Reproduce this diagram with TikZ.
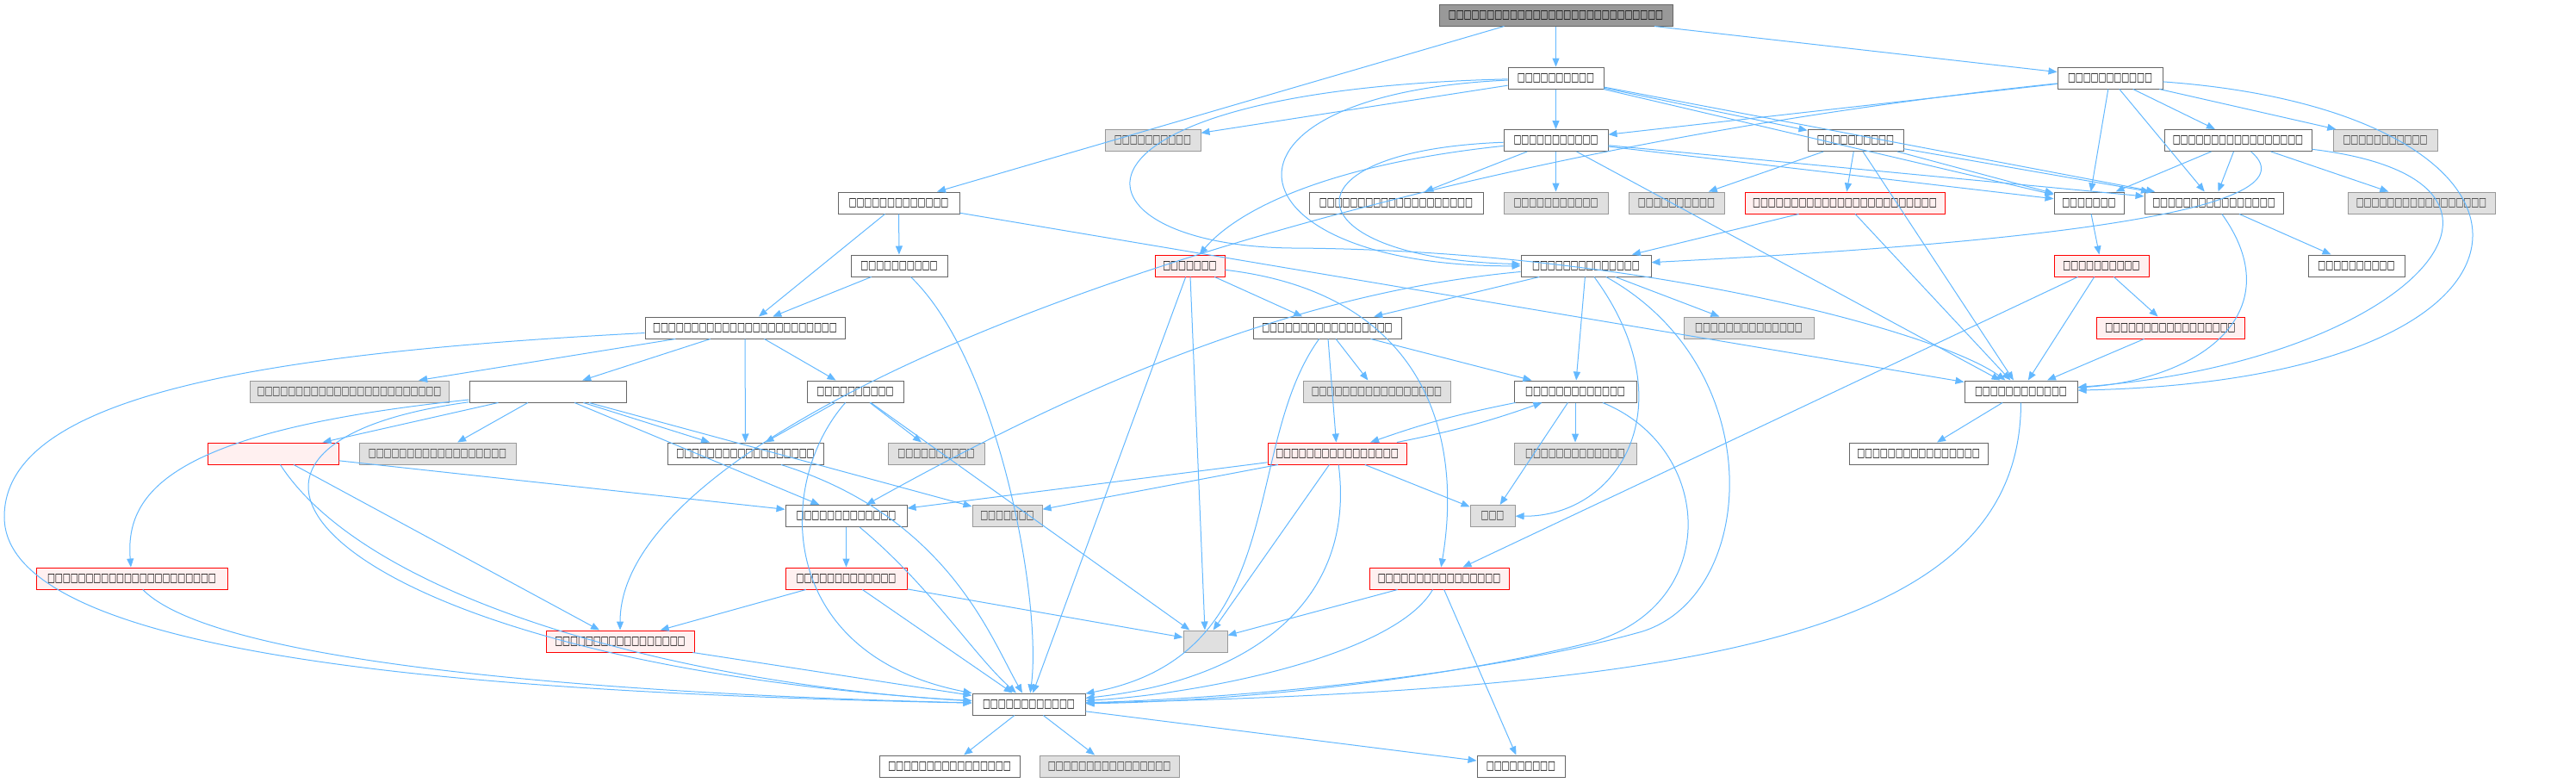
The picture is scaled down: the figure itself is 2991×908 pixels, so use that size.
\documentclass[tikz,border=0pt]{standalone}
\usepackage{fontspec}
\newfontfamily\sqfont{DejaVu Sans}
\usetikzlibrary{arrows.meta}
\definecolor{edgeblue}{HTML}{63B8FF}
\definecolor{boxline}{HTML}{666666}
\definecolor{extfill}{HTML}{E0E0E0}
\definecolor{extline}{HTML}{999999}
\definecolor{redfill}{HTML}{FFF0F0}
\definecolor{topfill}{HTML}{999999}
% a row of n empty glyph boxes, as the labels are printed
\newcommand{\tofu}[1]{\foreach \i in {1,...,#1}{\makebox[8.9pt]{\scalebox{0.95}[1.4]{□}}}}
\tikzset{
fn/.style={
draw=boxline,
fill=white,
line width=1pt,
minimum width=#1,
minimum height=25pt,
inner xsep=1pt,
inner ysep=0pt,
font={\sqfont\fontsize{10}{10}\selectfont}
},
ext/.style={fn=#1,draw=extline,fill=extfill,text=black!80},
hot/.style={fn=#1,draw=red,fill=redfill},
root/.style={fn=#1,fill=topfill},
arrow/.style={
-{Triangle[length=10pt,width=8pt]},
draw=edgeblue,
line width=1pt
}
}
\begin{document}
\begin{tikzpicture}[x=1pt,y=-1pt]
\useasboundingbox (0,0) rectangle (2991,908);

\node[root=271pt](top) at (1806.5,17.5){\tofu{28}};

\node[fn=111pt](a) at (1806.5,90.5){\tofu{10}};
\node[fn=122pt](b) at (2450,90.5){\tofu{11}};

\node[ext=111pt](h) at (1338.5,163){\tofu{10}};
\node[fn=121pt](e) at (1806.5,163){\tofu{11}};
\node[fn=111pt](c) at (2154.5,163){\tofu{10}};
\node[fn=171pt](d) at (2598.5,163){\tofu{17}};
\node[ext=121pt](g6) at (2769.5,163){\tofu{11}};

\node[fn=141pt](p) at (1043.5,235.5){\tofu{13}};
\node[fn=202pt](w1) at (1621,235.5){\tofu{20}};
\node[ext=121pt](g1) at (1806.5,235.5){\tofu{11}};
\node[ext=111pt](g2) at (1946.5,235.5){\tofu{10}};
\node[hot=232pt](r1) at (2142,235.5){\tofu{24}};
\node[fn=81pt](k) at (2425.5,235.5){\tofu{7}};
\node[fn=161pt](l) at (2570.5,235.5){\tofu{16}};
\node[ext=171pt](g7) at (2811.5,235.5){\tofu{17}};

\node[fn=112pt](s) at (1044,308.5){\tofu{10}};
\node[hot=81pt](r4) at (1381.5,308.5){\tofu{7}};
\node[fn=151pt](m) at (1841.5,308.5){\tofu{14}};
\node[hot=110pt](r2) at (2440,308.5){\tofu{10}};
\node[fn=112pt](q) at (2736,308.5){\tofu{10}};

\node[fn=232pt](t) at (865,380.5){\tofu{24}};
\node[fn=172pt](x) at (1541,380.5){\tofu{17}};
\node[ext=151pt](g4) at (2030.5,380.5){\tofu{14}};
\node[hot=172pt](r3) at (2520,380.5){\tofu{17}};

\node[ext=231pt](g8) at (405.5,454.5){\tofu{24}};
\node[fn=182pt](v) at (636,454.5){};
\node[fn=112pt](u) at (993,454.5){\tofu{10}};
\node[ext=171pt](g5) at (1598.5,454.5){\tofu{17}};
\node[fn=142pt](y) at (1829,454.5){\tofu{13}};
\node[fn=131pt](z) at (2346.5,454.5){\tofu{12}};

\node[hot=152pt](r5) at (317,526.5){};
\node[ext=182pt](g9) at (508,526.5){\tofu{18}};
\node[fn=181pt](w2) at (865.5,526.5){\tofu{18}};
\node[ext=112pt](g10) at (1087,526.5){\tofu{10}};
\node[hot=161pt](r8) at (1552.5,526.5){\tofu{16}};
\node[ext=142pt](g13) at (1829,526.5){\tofu{13}};
\node[fn=161pt](q2) at (2227.5,526.5){\tofu{16}};

\node[fn=141pt](hn) at (982.5,599){\tofu{13}};
\node[ext=81pt](g11) at (1169.5,599){\tofu{7}};
\node[ext=52pt](g14) at (1733,599){\tofu{3}};

\node[hot=222pt](r6) at (153,671.5){\tofu{22}};
\node[hot=141pt](r9) at (982.5,671.5){\tofu{13}};
\node[hot=162pt](r10) at (1671,671.5){\tofu{16}};

\node[hot=172pt](r7) at (720,744.5){\tofu{17}};
\node[ext=51pt](g12) at (1399.5,744.5){};

\node[fn=131pt](h0) at (1194.5,817.5){\tofu{12}};

\node[fn=163pt](b1) at (1102.5,889.5){\tofu{16}};
\node[ext=162pt](b2) at (1288,889.5){\tofu{16}};
\node[fn=102pt](b3) at (1766,889.5){\tofu{9}};

\foreach \x/\y in {top/a,top/b,
a/e,a/c,a/h,a/k,a/l,
b/e,b/d,b/g6,b/k,b/l,
e/g1,e/w1,e/k,e/l,e/z,
c/g2,c/r1,c/k,c/l,c/z,
d/l,d/k,d/g7,
p/s,p/t,p/z,s/t,
r1/m,r1/z,k/r2,l/q,
r4/x,r4/h0,r4/g12,
m/x,m/g4,m/y,
r2/r3,r2/z,r2/r10,r3/z,
t/g8,t/v,t/u,t/w2,
x/g5,x/y,x/r8,
z/q2,
v/r5,v/g9,v/w2,v/g11,v/hn,
u/w2,u/g10,u/g12,
y/g13,y/g14,
r8/g14,r8/hn,r8/g11,r8/g12,
hn/r9,r9/r7,r9/h0,r9/g12,
r5/r7,r5/hn,
r10/b3,r10/g12,
r7/h0,
h0/b1,h0/b2,h0/b3}
\draw[arrow](\x)--(\y);

% long bent connectors
\draw[arrow]([xshift=-60pt]top.south) -- (p);
\draw[arrow](a) .. controls (1200,105) and (1230,285) .. (1500,288) .. controls (1900,290) and (2250,385) .. (z);
\draw[arrow](a) .. controls (1380,110) and (1420,310) .. (m);
\draw[arrow](e) .. controls (1480,175) and (1500,300) .. (m);
\draw[arrow](e) .. controls (1550,190) and (1440,240) .. (r4);
\draw[arrow](b) .. controls (1500,190) and (720,480) .. (r7);
\draw[arrow](d) .. controls (2700,250) and (2300,285) .. (m);
\draw[arrow](b) .. controls (3000,130) and (3010,440) .. (z);
\draw[arrow](d) .. controls (2990,210) and (2800,420) .. (z);
\draw[arrow](l) .. controls (2660,360) and (2560,440) .. (z);
\draw[arrow](r4) .. controls (1650,340) and (1700,500) .. (r10);
\draw[arrow](m) .. controls (1500,340) and (1250,450) .. (hn);
\draw[arrow](m) .. controls (1960,470) and (1880,600) .. (g14);
\draw[arrow](y) to[bend right=4] (r8);
\draw[arrow](r8) to[bend right=4] (y);
\draw[arrow](v) .. controls (200,500) and (145,570) .. (r6);

% into the bottom hub
\draw[arrow](t) .. controls (300,410) and (5,460) .. (5,600) .. controls (5,770) and (600,805) .. (h0);
\draw[arrow](v) .. controls (150,520) and (400,770) .. (h0);
\draw[arrow](r5) .. controls (430,700) and (800,795) .. (h0);
\draw[arrow](r6) .. controls (260,780) and (800,808) .. (h0);
\draw[arrow](s) .. controls (1160,420) and (1210,700) .. (h0);
\draw[arrow](w2) .. controls (1100,600) and (1150,740) .. (h0);
\draw[arrow](u) .. controls (900,560) and (900,760) .. (h0);
\draw[arrow](hn) .. controls (1080,680) and (1130,760) .. (h0);
\draw[arrow](m) .. controls (2060,430) and (2040,700) .. (1900,735) .. controls (1700,790) and (1400,812) .. (h0);
\draw[arrow](y) .. controls (1990,520) and (2000,700) .. (1850,745) .. controls (1650,795) and (1400,815) .. (h0);
\draw[arrow](z) .. controls (2346,730) and (2000,800) .. (h0);
\draw[arrow](r8) .. controls (1575,700) and (1450,790) .. (h0);
\draw[arrow](x) .. controls (1440,520) and (1500,760) .. (h0);
\draw[arrow](r10) .. controls (1620,760) and (1400,805) .. (h0);

\end{tikzpicture}
\end{document}
